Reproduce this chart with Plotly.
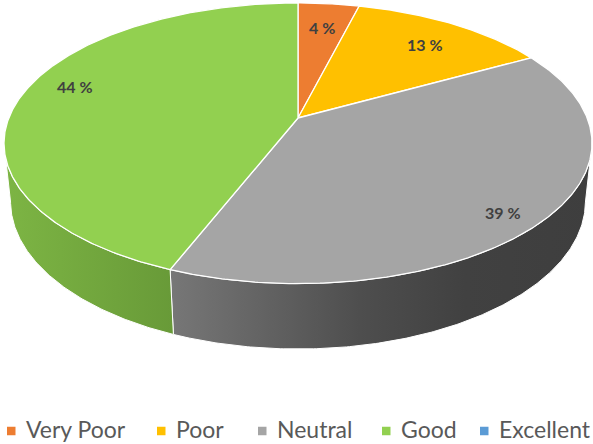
import numpy as np
import plotly.graph_objects as go

# ---- data ----
CATEGORIES = ["Very Poor", "Poor", "Neutral", "Good", "Excellent"]
VALUES = [4, 13, 39, 44, 0]
TOP_COLORS = ["#ED7D31", "#FFC000", "#A5A5A5", "#92D050", "#5B9BD5"]
SIDE_SCALES = [
    [[0, "#D86A22"], [1, "#B9561A"]],
    [[0, "#E5AC00"], [1, "#C29000"]],
    [[0, "#777777"], [0.45, "#4E4E4E"], [0.7, "#414141"], [1, "#3E3E3E"]],
    [[0, "#7DB544"], [1, "#689A38"]],
    [[0, "#4A88C2"], [1, "#3A6FA0"]],
]

# ---- layout / projection style constants ----
W, H = 593, 444
CX, CY = 298, 118          # screen position of the pie centre
ELEV = np.radians(28.0)    # camera elevation
DIST = 4.9                 # camera distance (in pie radii)
FOCAL = 1417.0             # focal length in pixels
THICK = 0.23               # pie thickness (in pie radii)
LABEL_R = [0.76, 0.77, 0.88, 0.84, 0.8]
LABEL_DA = [0.0, -1.5, -3.0, -6.0, 0.0]
LEGEND_X = [7, 157, 258, 382, 480]
LEGEND_SQ_Y = 431
LEGEND_TXT_Y = 428.5
SQ = 8.5

s_e, c_e = np.sin(ELEV), np.cos(ELEV)


def project(X, Y, Z):
    yc = Y * s_e + Z * c_e
    d = DIST + Y * c_e - Z * s_e
    return CX + FOCAL * X / d, CY - FOCAL * yc / d


def arc(a0, a1, z):
    n = max(3, int(abs(a1 - a0) * 2))
    ang = np.radians(np.linspace(a0, a1, n))
    return project(np.cos(ang), np.sin(ang), np.full(n, z))


total = float(sum(VALUES))
cum = np.concatenate([[0], np.cumsum(VALUES)])
starts = 90 - 360 * cum[:-1] / total
ends = 90 - 360 * cum[1:] / total

a_sil = np.degrees(np.arcsin(c_e / DIST))
vis_lo, vis_hi = -180 + a_sil, -a_sil

fig = go.Figure()

# side faces
for i, (cat, v) in enumerate(zip(CATEGORIES, VALUES)):
    if v <= 0:
        continue
    lo_s, hi_s = ends[i], starts[i]
    for k in (-360, 0, 360):
        lo = max(lo_s, vis_lo + k)
        hi = min(hi_s, vis_hi + k)
        if hi - lo <= 0.01:
            continue
        tx, ty = arc(lo, hi, 0.0)
        bx, by = arc(hi, lo, -THICK)
        xs = np.concatenate([tx, bx, tx[:1]])
        ys = np.concatenate([ty, by, ty[:1]])
        fig.add_trace(go.Scatter(
            x=xs, y=ys, mode="lines", fill="toself",
            fillgradient=dict(type="horizontal", colorscale=SIDE_SCALES[i]),
            line=dict(color="white", width=1),
            hoverinfo="skip", showlegend=False))

# top faces
for i, (cat, v) in enumerate(zip(CATEGORIES, VALUES)):
    if v <= 0:
        continue
    ax, ay = arc(starts[i], ends[i], 0.0)
    xs = np.concatenate([[CX], ax, [CX]])
    ys = np.concatenate([[CY], ay, [CY]])
    fig.add_trace(go.Scatter(
        x=xs, y=ys, mode="lines", fill="toself", fillcolor=TOP_COLORS[i],
        line=dict(color="white", width=1.3), name=cat,
        hoverinfo="name", showlegend=False))

annotations = []
# data labels
for i, v in enumerate(VALUES):
    if v <= 0:
        continue
    mid = np.radians((starts[i] + ends[i]) / 2 + LABEL_DA[i])
    r = LABEL_R[i]
    lx, ly = project(r * np.cos(mid), r * np.sin(mid), 0.0)
    annotations.append(dict(
        x=lx, y=ly, xref="x", yref="y", text=f"<b>{v} %</b>", showarrow=False,
        xanchor="center", yanchor="middle",
        font=dict(family="Lato", size=16, color="#404040")))

# legend
shapes = []
for i, cat in enumerate(CATEGORIES):
    x0 = LEGEND_X[i]
    shapes.append(dict(type="rect", xref="x", yref="y", x0=x0, x1=x0 + SQ,
                       y0=LEGEND_SQ_Y - SQ / 2, y1=LEGEND_SQ_Y + SQ / 2,
                       fillcolor=TOP_COLORS[i], line=dict(width=0)))
    annotations.append(dict(
        x=x0 + SQ + 9, y=LEGEND_TXT_Y, xref="x", yref="y", text=cat,
        showarrow=False, xanchor="left", yanchor="middle", borderpad=0,
        font=dict(family="Lato", size=23, color="#595959")))

fig.update_layout(
    width=W, height=H, margin=dict(l=0, r=0, t=0, b=0),
    paper_bgcolor="white", plot_bgcolor="white",
    xaxis=dict(range=[0, W], visible=False, fixedrange=True),
    yaxis=dict(range=[H, 0], visible=False, fixedrange=True),
    annotations=annotations, shapes=shapes, showlegend=False)

fig.write_html("out.html")
